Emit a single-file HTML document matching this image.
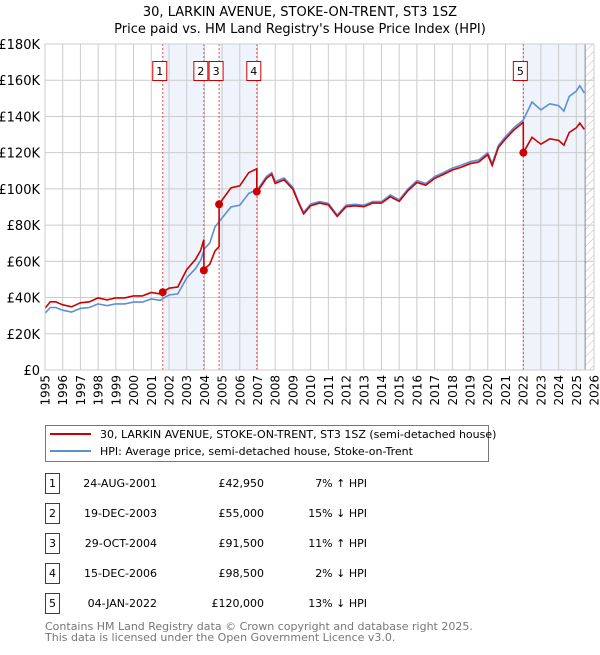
<!DOCTYPE html>
<html><head><meta charset="utf-8"><style>
body{margin:0;background:#fff;font-family:"Liberation Sans","DejaVu Sans",sans-serif;}
svg text{font-family:"DejaVu Sans","Liberation Sans",sans-serif;}
</style></head><body>
<svg id="chart" width="600" height="650" xmlns="http://www.w3.org/2000/svg">
<defs><pattern id="hatch" width="6" height="6" patternUnits="userSpaceOnUse" patternTransform="rotate(45)"><line x1="0" y1="0" x2="0" y2="6" stroke="#bbb" stroke-width="1"/></pattern></defs>
<text x="300" y="16" text-anchor="middle" font-size="13">30, LARKIN AVENUE, STOKE-ON-TRENT, ST3 1SZ</text>
<text x="300" y="33" text-anchor="middle" font-size="13">Price paid vs. HM Land Registry's House Price Index (HPI)</text>
<g id="plot"></g>
<g>
<rect x="45.5" y="425.5" width="443" height="36" fill="#fff" stroke="#777"/>
<line x1="50" y1="434" x2="91" y2="434" stroke="#cc0000" stroke-width="2"/>
<text x="100" y="438" font-size="11">30, LARKIN AVENUE, STOKE-ON-TRENT, ST3 1SZ (semi-detached house)</text>
<line x1="50" y1="451" x2="91" y2="451" stroke="#5b8fd6" stroke-width="2"/>
<text x="100" y="455" font-size="11">HPI: Average price, semi-detached house, Stoke-on-Trent</text>
</g>
<g id="table"></g>
<text x="45" y="630" font-size="11" fill="#777">Contains HM Land Registry data © Crown copyright and database right 2025.</text>
<text x="45" y="641" font-size="11" fill="#777">This data is licensed under the Open Government Licence v3.0.</text>
</svg>
<script>
const hpiYears=[1995,1995.3,1995.6,1996,1996.5,1997,1997.5,1998,1998.5,1999,1999.5,2000,2000.5,2001,2001.5,2002,2002.5,2003,2003.5,2003.8,2004,2004.3,2004.6,2005,2005.5,2006,2006.5,2007,2007.5,2007.8,2008,2008.5,2009,2009.3,2009.6,2010,2010.5,2011,2011.5,2012,2012.5,2013,2013.5,2014,2014.5,2015,2015.5,2016,2016.5,2017,2017.5,2018,2018.5,2019,2019.5,2020,2020.25,2020.6,2021,2021.5,2022,2022.5,2023,2023.5,2024,2024.3,2024.6,2025,2025.2,2025.45];
const hpiValues=[31.3,34.5,34.5,33,32,34,34.5,36.5,35.5,36.5,36.5,37.5,37.5,39.2,38.5,41.4,42,50.8,56,60.7,67,70,79,84,90,91,97.5,99.6,106.8,109,104,106,100.8,93.5,87,91.6,93,92,85.6,91,91.5,91,93,93,96.6,94,100,104.5,103,106.8,109,111.5,113,115,116,120,114,124,128.8,134,138,148,143.6,147,146,143,151,154,157,153];
const saleYears=[2001.65,2003.97,2004.83,2006.96,2022.01];
const salePrices=[42.95,55,91.5,98.5,120];
const saleLabels=["1","2","3","4","5"];
const saleDates=["24-AUG-2001","19-DEC-2003","29-OCT-2004","15-DEC-2006","04-JAN-2022"];
const salePriceText=["£42,950","£55,000","£91,500","£98,500","£120,000"];
const saleHpiText=["7% ↑ HPI","15% ↓ HPI","11% ↑ HPI","2% ↓ HPI","13% ↓ HPI"];
const yTicks=[0,20,40,60,80,100,120,140,160,180];
const yTickLabels=["£0","£20K","£40K","£60K","£80K","£100K","£120K","£140K","£160K","£180K"];
const xTicks=[1995,1996,1997,1998,1999,2000,2001,2002,2003,2004,2005,2006,2007,2008,2009,2010,2011,2012,2013,2014,2015,2016,2017,2018,2019,2020,2021,2022,2023,2024,2025,2026];
const dataEnd=2025.5;

const NS="http://www.w3.org/2000/svg";
const X=t=>45+(t-1995)*(549/31);
const Y=v=>370-v*(326/180);
function mk(tag,attrs,parent,text){const e=document.createElementNS(NS,tag);for(const k in attrs)e.setAttribute(k,attrs[k]);if(text!=null)e.textContent=text;parent.appendChild(e);return e;}
function hpiAt(t){for(let i=0;i<hpiYears.length-1;i++){if(t<=hpiYears[i+1]){const f=(t-hpiYears[i])/(hpiYears[i+1]-hpiYears[i]);return hpiValues[i]+f*(hpiValues[i+1]-hpiValues[i]);}}return hpiValues[hpiValues.length-1];}
const plot=document.getElementById('plot');
const shadePairs=[[0,1],[2,3]];
shadePairs.forEach(p=>{const r=mk('rect',{x:X(saleYears[p[0]]),y:Y(180),width:X(saleYears[p[1]])-X(saleYears[p[0]]),height:Y(0)-Y(180),fill:'#eef3fc'},plot);

});
const s5=mk('rect',{x:X(saleYears[4]),y:Y(180),width:X(dataEnd)-X(saleYears[4]),height:Y(0)-Y(180),fill:'#eef3fc'},plot);


const hz=mk('rect',{x:X(dataEnd),y:Y(180),width:X(2026)-X(dataEnd),height:Y(0)-Y(180),fill:'url(#hatch)'},plot);


yTicks.forEach((v,i)=>{const l=mk('line',{x1:45,x2:594,y1:Y(v),y2:Y(v),stroke:'#ccc'},plot);


const t=mk('text',{x:40,y:Y(v)+5,'text-anchor':'end','font-size':13},plot,yTickLabels[i]);

});
xTicks.forEach(yr=>{const l=mk('line',{x1:X(yr),x2:X(yr),y1:Y(180),y2:Y(0),stroke:'#ccc'},plot);


const t=mk('text',{x:0,y:0,'text-anchor':'end','font-size':12,transform:`translate(${X(yr)+4.5},375) rotate(-90)`},plot,String(yr));

});
mk('line',{x1:X(dataEnd),x2:X(dataEnd),y1:Y(180),y2:Y(0),stroke:'#888'},plot);
saleYears.forEach((s,i)=>{const l=mk('line',{x1:X(s),x2:X(s),y1:Y(180),y2:Y(0),stroke:'#e05050','stroke-dasharray':'2,2'},plot);

});
let d='';hpiYears.forEach((t,i)=>{d+=(i?'L':'M')+X(t).toFixed(1)+','+Y(hpiValues[i]).toFixed(1);});
const hl=mk('path',{d,fill:'none',stroke:'#5b8fd6','stroke-width':1.6},plot);


function seg(t){let k=0;for(let i=0;i<saleYears.length;i++)if(t>=saleYears[i])k=i;return k;}
const pts=[];const times=[];
hpiYears.forEach(t=>times.push(t));saleYears.forEach(s=>{times.push(s-0.001);times.push(s);});
times.sort((a,b)=>a-b);
times.forEach(t=>{const k=seg(t);pts.push([t,salePrices[k]*hpiAt(t)/hpiAt(saleYears[k])]);});
let d2='';pts.forEach((p,i)=>{d2+=(i?'L':'M')+X(p[0]).toFixed(1)+','+Y(p[1]).toFixed(1);});
const pl=mk('path',{d:d2,fill:'none',stroke:'#cc0000','stroke-width':1.6},plot);


saleYears.forEach((s,i)=>{const c=mk('circle',{cx:X(s),cy:Y(salePrices[i]),r:4,fill:'#cc0000'},plot);


const off=-3;
const r=mk('rect',{x:X(s)+off-7,y:61.5,width:14,height:19,fill:'#fff',stroke:'#cc0000'},plot);


const tx=mk('text',{x:X(s)+off,y:75,'text-anchor':'middle','font-size':11},plot,saleLabels[i]);

});
mk('rect',{x:45,y:Y(180),width:549,height:Y(0)-Y(180),fill:'none',stroke:'#ccc'},plot);
const tb=document.getElementById('table');
saleLabels.forEach((lab,i)=>{const y=483+i*30;
const g=mk('g',{},tb);


mk('rect',{x:45.5,y:y-9.5,width:14,height:20,fill:'#fff',stroke:'#cc0000'},g);
mk('text',{x:52.5,y:y+4,'text-anchor':'middle','font-size':11},g,lab);
mk('text',{x:157,y:y+4,'text-anchor':'end','font-size':11},g,saleDates[i]);
mk('text',{x:264,y:y+4,'text-anchor':'end','font-size':11},g,salePriceText[i]);
mk('text',{x:367,y:y+4,'text-anchor':'end','font-size':11},g,saleHpiText[i]);});
</script>
</body></html>
